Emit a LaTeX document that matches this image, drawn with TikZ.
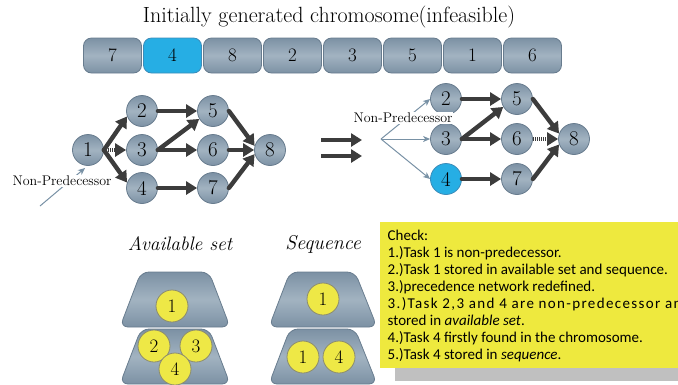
\documentclass[tikz,border=0pt]{standalone}
\usepackage{fontspec}
\newfontfamily\calib{Carlito}
\usetikzlibrary{arrows.meta,shapes.geometric}
\definecolor{nodeD}{RGB}{124,145,164}
\definecolor{nodeL}{RGB}{162,179,193}
\definecolor{nodeB}{RGB}{104,124,142}
\definecolor{blueF}{RGB}{38,174,228}
\definecolor{blueB}{RGB}{60,140,185}
\definecolor{yel}{RGB}{238,233,62}
\definecolor{ycirc}{RGB}{238,232,70}
\definecolor{ycircB}{RGB}{140,140,110}
\definecolor{arrC}{RGB}{60,60,60}
\definecolor{thinC}{RGB}{120,145,165}
\definecolor{shadowC}{RGB}{192,192,192}
\begin{document}
\begin{tikzpicture}[x=1pt,y=-1pt,
  gnode/.style={circle, minimum size=31pt, inner sep=0pt, draw=nodeB, line width=0.8pt,
    top color=nodeD, bottom color=nodeD, middle color=nodeL, font=\fontsize{21}{21}\selectfont},
  bnode/.style={gnode, top color=blueF, bottom color=blueF, middle color=blueF, draw=blueB},
  gene/.style={rounded corners=8pt, minimum width=58pt, minimum height=35pt, inner sep=0pt,
    draw=nodeB, line width=0.8pt, top color=nodeD, bottom color=nodeD, middle color=nodeL,
    font=\fontsize{19}{19}\selectfont},
  bgene/.style={gene, top color=blueF, bottom color=blueF, middle color=blueF, draw=blueB},
  ynode/.style={circle, minimum size=32pt, inner sep=0pt, draw=ycircB, line width=0.8pt,
    fill=ycirc, font=\fontsize{19}{19}\selectfont},
  trap/.style={draw=nodeB, line width=0.8pt, rounded corners=8pt,
    top color=nodeD, bottom color=nodeD, middle color=nodeL},
  arr/.style={line width=4.4pt, draw=arrC, line cap=round, -{Triangle[length=11pt,width=13pt]}},
  hatch/.style={arr, line cap=butt, dash pattern=on 1.2pt off 0.8pt},
  thin/.style={draw=thinC, line width=1pt, -{Stealth[length=7pt,width=6pt,inset=2pt]}},
  lbl/.style={font=\fontsize{14}{14}\selectfont, inner sep=1pt, fill=white}
]
\useasboundingbox (0,0) rectangle (678,384);
\clip (0,0) rectangle (678,384);

% title
\node[font=\fontsize{22}{22}\selectfont] (title) at (329,17) {Initially generated chromosome(infeasible)};

% chromosome
\node[gene]  (g1) at (112.5,55.5) {7};
\node[bgene] (g2) at (172.5,55.5) {4};
\node[gene]  (g3) at (232.5,55.5) {8};
\node[gene]  (g4) at (292.5,55.5) {2};
\node[gene]  (g5) at (352.5,55.5) {3};
\node[gene]  (g6) at (412.5,55.5) {5};
\node[gene]  (g7) at (472.5,55.5) {1};
\node[gene]  (g8) at (532.5,55.5) {6};

% left network
\node[gnode] (a1) at (88,150) {1};
\node[gnode] (a2) at (142,111) {2};
\node[gnode] (a3) at (142,150) {3};
\node[gnode] (a4) at (142,188) {4};
\node[gnode] (a5) at (213,111) {5};
\node[gnode] (a6) at (213,150) {6};
\node[gnode] (a7) at (213,188) {7};
\node[gnode] (a8) at (270,150) {8};

\draw[arr] (a1.east) -- (a2.200);
\draw[hatch] (a1.east) -- (a3.west);
\draw[arr] (a1.east) -- (a4.160);
\draw[arr] (a2.east) -- (a5.west);
\draw[arr] (a3.east) -- (a5.210);
\draw[arr] (a3.east) -- (a6.west);
\draw[arr] (a4.east) -- (a7.west);
\draw[arr] (a5.east) -- (a8.165);
\draw[arr] (a6.east) -- (a8.west);
\draw[arr] (a7.east) -- (a8.195);

\coordinate (np1) at (40,206);
\coordinate (np1t) at (85,168);
\draw[thin] (np1) -- (np1t);
\node[lbl] (lab1) at (62,181) {Non-Predecessor};

% double arrow
\coordinate (d1s) at (321,140); \coordinate (d1e) at (362,140);
\coordinate (d2s) at (321,156); \coordinate (d2e) at (362,156);
\draw[line width=4.4pt, draw=arrC, -{Triangle[length=11pt,width=13pt]}] (d1s) -- (d1e);
\draw[line width=4.4pt, draw=arrC, -{Triangle[length=11pt,width=13pt]}] (d2s) -- (d2e);

% right network
\node[gnode] (b2) at (446,99) {2};
\node[gnode] (b3) at (446,139) {3};
\node[bnode] (b4) at (446,179) {4};
\node[gnode] (b5) at (517,99) {5};
\node[gnode] (b6) at (517,139) {6};
\node[gnode] (b7) at (517,179) {7};
\node[gnode] (b8) at (574,139) {8};

\draw[arr] (b2.east) -- (b5.west);
\draw[arr] (b3.east) -- (b5.210);
\draw[arr] (b3.east) -- (b6.west);
\draw[arr] (b4.east) -- (b7.west);
\draw[arr] (b5.east) -- (b8.160);
\draw[hatch] (b6.east) -- (b8.west);
\draw[arr] (b7.east) -- (b8.200);

\coordinate (fan) at (381,139);
\draw[thin] (fan) -- (b2.west);
\draw[thin] (fan) -- (b3.west);
\draw[thin] (fan) -- (b4.west);
\node[lbl] (lab2) at (403,118) {Non-Predecessor};

% bottom labels
\node[font=\itshape\fontsize{19.5}{20}\selectfont] (avl) at (180,244) {Available set};
\node[font=\itshape\fontsize{20}{20}\selectfont] (seql) at (323,244) {Sequence};

% trapezoids: available set
\path[trap] (141,329) -- (209,329) -- (230,384) -- (120,384) -- cycle;
\path[trap] (141,272) -- (209,272) -- (230,327) -- (120,327) -- cycle;
\node[ynode] (s1) at (172,306) {1};
\node[ynode] (s2) at (154,346) {2};
\node[ynode] (s3) at (196,346) {3};
\node[ynode] (s4) at (175,369) {4};

% trapezoids: sequence
\path[trap] (290,329) -- (355,329) -- (377,384) -- (269,384) -- cycle;
\path[trap] (290,272) -- (355,272) -- (377,327) -- (269,327) -- cycle;
\node[ynode] (q1) at (323,299) {1};
\node[ynode] (q2) at (303,357) {1};
\node[ynode] (q3) at (339,357) {4};

% check box
\fill[shadowC] (395,368) rectangle (678,381);
\fill[yel] (380,222) rectangle (678,368);
\node[anchor=north west, inner sep=0pt, align=left, font=\calib\fontsize{15}{17}\selectfont] (check) at (387.5,229.5)
{Check:\\
1.)Task 1 is non-predecessor.\\
2.)Task 1 stored in available set and sequence.\\
3.)precedence network redefined.\\
{\addfontfeature{LetterSpace=9}3.)Task 2,3 and 4 are non-predecessor and}\\
stored in \emph{available set}.\\
4.)Task 4 firstly found in the chromosome.\\
5.)Task 4 stored in \emph{sequence}.};
\end{tikzpicture}
\end{document}
